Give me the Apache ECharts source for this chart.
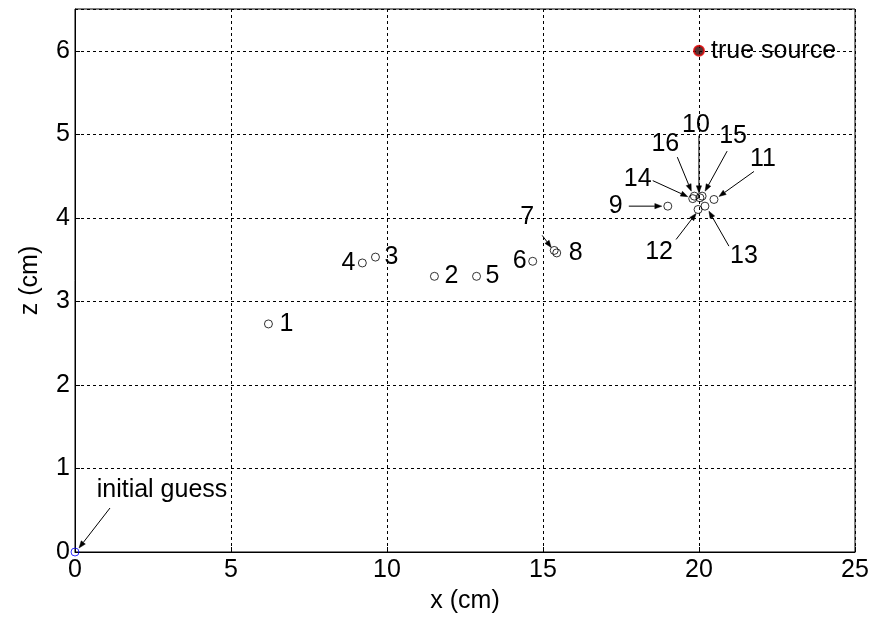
<!DOCTYPE html>
<html>
<head>
<meta charset="utf-8">
<script src="https://cdn.jsdelivr.net/npm/echarts@6/dist/echarts.min.js"></script>
<style>
  html, body { margin: 0; padding: 0; background: #fff; }
  #chart { width: 873px; height: 619px; }
</style>
</head>
<body>
<div id="chart"></div>
<script>
// Source localisation iterates (x, z in cm)
const iterLabels = ['1','2','3','4','5','6','7','8','9','10','11','12','13','14','15','16'];
const iterX = [6.20, 11.52, 9.63, 9.21, 12.87, 14.67, 15.36, 15.44, 19.00, 20.03, 20.48, 19.97, 20.19, 19.80, 20.10, 19.85];
const iterZ = [2.73, 3.30, 3.53, 3.46, 3.30, 3.48, 3.61, 3.58, 4.14, 4.24, 4.22, 4.10, 4.14, 4.23, 4.26, 4.26];
const initialGuess = [0, 0];
const trueSource = [20, 6];

const xTicks = [0, 5, 10, 15, 20, 25];
const zTicks = [0, 1, 2, 3, 4, 5, 6];

// Label placement for each iterate: text offset (px) and optional arrow tail/head offsets (px)
const iterNotes = [
  { dx: 11, dy: 0, align: 'left' },
  { dx: 10, dy: 0, align: 'left' },
  { dx: 9, dy: 0, align: 'left' },
  { dx: -7, dy: 0, align: 'right' },
  { dx: 9, dy: 0, align: 'left' },
  { dx: -6, dy: 0, align: 'right' },
  { dx: -27, dy: -33, align: 'center', tail: [-12, -15], head: [-3, -3] },
  { dx: 12, dy: 0, align: 'left' },
  { dx: -52, dy: 0, align: 'center', tail: [-39, 0], head: [-6, 0] },
  { dx: -4, dy: -73, align: 'center', tail: [-1, -62], head: [-1, -5] },
  { dx: 49, dy: -40, align: 'center', tail: [40, -28], head: [5, -3] },
  { dx: -39, dy: 43, align: 'center', tail: [-22, 30], head: [-2, 4] },
  { dx: 39, dy: 50, align: 'center', tail: [24, 40], head: [4, 5] },
  { dx: -55, dy: -20, align: 'center', tail: [-40, -18], head: [-5, -2] },
  { dx: 31, dy: -60, align: 'center', tail: [25, -45], head: [3, -5] },
  { dx: -29, dy: -52, align: 'center', tail: [-17, -39], head: [-3, -5] }
];
const guessNote = { text: 'initial guess', dx: 87, dy: -62, align: 'center', tail: [35, -44], head: [4, -4] };
const sourceNote = { text: 'true source', dx: 12, dy: 0, align: 'left' };

const FAMILY = '"Liberation Sans", Arial, sans-serif';
const FONT = '25px ' + FAMILY;

function noteGroup(p, n, text) {
  const children = [{
    type: 'text',
    style: {
      text: text, x: p[0] + n.dx, y: p[1] + n.dy,
      align: n.align, verticalAlign: 'middle', font: FONT, fill: '#000'
    }
  }];
  if (n.tail) {
    const x1 = p[0] + n.tail[0], y1 = p[1] + n.tail[1];
    const x2 = p[0] + n.head[0], y2 = p[1] + n.head[1];
    const ang = Math.atan2(y2 - y1, x2 - x1);
    const L = 7, W = 2.6;
    const bx = x2 - L * Math.cos(ang), by = y2 - L * Math.sin(ang);
    const nx = -Math.sin(ang) * W, ny = Math.cos(ang) * W;
    children.push({
      type: 'line',
      shape: { x1: x1, y1: y1, x2: bx, y2: by },
      style: { stroke: '#000', lineWidth: 1 }
    });
    children.push({
      type: 'polygon',
      shape: { points: [[x2, y2], [bx + nx, by + ny], [bx - nx, by - ny]] },
      style: { fill: '#000', stroke: '#000', lineWidth: 0.5 }
    });
  }
  return { type: 'group', children: children };
}

const iterData = iterX.map((x, i) => [x, iterZ[i], i]);

const chart = echarts.init(document.getElementById('chart'), null, { renderer: 'canvas' });
chart.setOption({
  animation: false,
  backgroundColor: '#fff',
  textStyle: { fontFamily: FAMILY },
  grid: {
    left: 75, right: 18, top: 9, bottom: 65,
    show: true, borderColor: '#000', borderWidth: 1, backgroundColor: 'transparent'
  },
  xAxis: {
    type: 'value', min: 0, max: 25, interval: 5,
    name: 'x (cm)', nameLocation: 'middle', nameGap: 37,
    nameTextStyle: { fontSize: 25, color: '#000' },
    axisLine: { show: true, onZero: false, lineStyle: { color: '#000', width: 1 } },
    axisTick: { show: true, inside: true, length: 5, lineStyle: { color: '#000' } },
    axisLabel: { fontSize: 25, color: '#000', margin: 6,
      formatter: v => xTicks.includes(v) ? String(v) : '' },
    splitLine: { show: true, lineStyle: { color: '#000', type: [3, 3], width: 1 } }
  },
  yAxis: {
    type: 'value', min: 0, max: 6.5, interval: 1,
    name: 'z (cm)', nameLocation: 'middle', nameGap: 32,
    nameTextStyle: { fontSize: 25, color: '#000' },
    axisLine: { show: true, onZero: false, lineStyle: { color: '#000', width: 1 } },
    axisTick: { show: true, inside: true, length: 5, lineStyle: { color: '#000' } },
    axisLabel: { fontSize: 25, color: '#000', margin: 5, showMaxLabel: false,
      formatter: v => zTicks.includes(v) ? String(v) : '' },
    splitLine: { show: true, lineStyle: { color: '#000', type: [3, 3], width: 1 } }
  },
  series: [
    {
      type: 'scatter', data: iterData, symbol: 'circle', symbolSize: 8,
      itemStyle: { color: 'rgba(0,0,0,0)', borderColor: '#000', borderWidth: 1 },
      z: 3
    },
    {
      type: 'scatter', data: [initialGuess], symbol: 'circle', symbolSize: 8,
      clip: false,
      itemStyle: { color: 'rgba(0,0,0,0)', borderColor: '#0000ff', borderWidth: 1 },
      z: 4
    },
    {
      type: 'scatter', data: [trueSource], symbol: 'circle', symbolSize: 10,
      itemStyle: { color: '#2a0000', borderColor: '#e00000', borderWidth: 2 },
      z: 4
    },
    {
      type: 'custom', data: iterData, clip: false, z: 5,
      renderItem: (params, api) => {
        const i = api.value(2);
        const p = api.coord([api.value(0), api.value(1)]);
        return noteGroup(p, iterNotes[i], iterLabels[i]);
      }
    },
    {
      type: 'custom', data: [initialGuess, trueSource], clip: false, z: 5,
      renderItem: (params, api) => {
        const p = api.coord([api.value(0), api.value(1)]);
        const n = params.dataIndex === 0 ? guessNote : sourceNote;
        return noteGroup(p, n, n.text);
      }
    }
  ]
});
</script>
</body>
</html>
